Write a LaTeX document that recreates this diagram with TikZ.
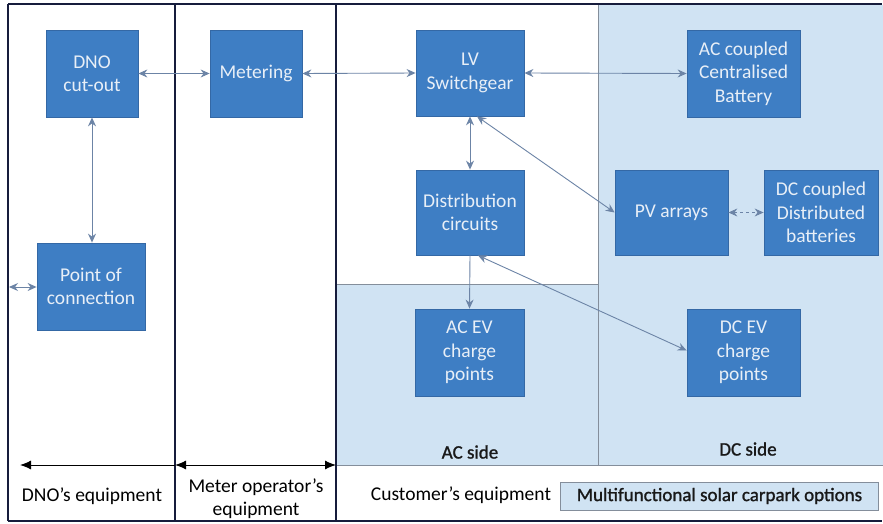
\documentclass[tikz,border=0pt]{standalone}
\usepackage{fontspec}
\setmainfont{Carlito}
\newfontfamily\semibfont[FakeBold=1.2]{Carlito}
\usetikzlibrary{arrows.meta}
\definecolor{boxblue}{RGB}{62,126,196}
\definecolor{boxedge}{RGB}{52,104,165}
\definecolor{lightbg}{RGB}{208,227,243}
\definecolor{regionedge}{RGB}{132,142,155}
\definecolor{framec}{RGB}{22,28,60}
\definecolor{conn}{RGB}{108,132,166}
\definecolor{boxtext}{RGB}{232,239,247}
\tikzset{
  eqbox/.style={draw=boxedge, line width=0.8pt, fill=boxblue, text=boxtext,
    minimum width=#1, align=center, inner sep=0pt, font=\fontsize{19.5}{23.5}\selectfont},
  eqbox/.default=108pt,
  link/.style={draw=conn, line width=0.9pt, {Stealth[length=9pt,width=8pt,inset=3pt]}-{Stealth[length=9pt,width=8pt,inset=3pt]}},
  linkend/.style={draw=conn, line width=0.9pt, -{Stealth[length=9pt,width=8pt,inset=3pt]}},
  frameline/.style={draw=framec, line width=1.1pt},
  span/.style={draw=black, line width=1pt},
  lbl/.style={font=\fontsize{19.5}{23}\selectfont, text=black, align=center, inner sep=0pt},
  boldlbl/.style={font=\fontsize{19}{23}\semibfont, text=black!90, align=center, inner sep=0pt}
}
\begin{document}
\begin{tikzpicture}[x=1pt,y=-1pt]
\useasboundingbox (0,0) rectangle (883,524);
\fill[white] (0,0) rectangle (883,524);
% light blue regions
\fill[lightbg] (337,284) rectangle (598,465);
\fill[lightbg] (598,5) rectangle (883,465);
\draw[regionedge, line width=0.9pt] (337,284) -- (598,284);
\draw[regionedge, line width=0.9pt] (598,5) -- (598,465);
\draw[regionedge, line width=0.9pt] (337,465) -- (883,465);
% frame
\draw[frameline] (8,4) -- (882,4);
\draw[frameline] (8,521) -- (882,521);
\draw[frameline] (8,4) -- (8,521);
\draw[frameline] (175,4) -- (175,521);
\draw[frameline] (336,4) -- (336,521);
% boxes
\node[eqbox=92pt, minimum height=87pt] (dno) at (92,73.5) {DNO\\cut-out};
\node[eqbox=92pt, minimum height=87pt] (meter) at (256,73.5) {Metering};
\node[eqbox=108pt, minimum height=86pt] (lv) at (470,73) {LV\\Switchgear};
\node[eqbox=113pt, minimum height=87pt] (acbat) at (743.5,73.5) {AC coupled\\Centralised\\Battery};
\node[eqbox=108pt, minimum height=85pt] (dist) at (470,212.5) {Distribution\\circuits};
\node[eqbox=113pt, minimum height=85pt] (pv) at (671.5,212.5) {PV arrays};
\node[eqbox=114pt, minimum height=85pt] (dcbat) at (821,212.5) {DC coupled\\Distributed\\batteries};
\node[eqbox=108pt, minimum height=87pt] (poc) at (91,286.5) {Point of\\connection};
\node[eqbox=109pt, minimum height=87pt] (acev) at (469.5,352.5) {AC EV\\charge\\points};
\node[eqbox=113pt, minimum height=87pt] (dcev) at (743.5,352.5) {DC EV\\charge\\points};
% connectors
\coordinate (pocl) at (9,287);
\draw[link] (dno.east) -- (meter.west);
\draw[link] (meter.east) -- (lv.west);
\draw[link] (lv.east) -- (acbat.west);
\draw[link] (dno.south) -- (poc.north -| dno.south);
\draw[link] (pocl) -- (poc.west |- pocl);
\draw[link] (lv.south) -- (dist.north);
\draw[link] ([xshift=7pt]lv.south) -- (pv.west);
\draw[link, dashed] (pv.east) -- (dcbat.west);
\draw[linkend] (dist.south) -- (acev.north);
\draw[link] ([xshift=8pt]dist.south) -- ([yshift=2pt]dcev.west);
% spans at bottom
\coordinate (s0) at (20,465);
\coordinate (s1) at (175,465);
\coordinate (s2) at (336,465);
\draw[span, -{Latex[length=11pt,width=9pt]}] (s1) -- (s0);
\draw[span, {Latex[length=11pt,width=9pt]}-{Latex[length=11pt,width=9pt]}] (s1) -- (s2);
% labels
\node[lbl] (dnoeq) at (92,496) {DNO’s equipment};
\node[lbl] (meq) at (256,498.5) {Meter operator’s\\equipment};
\node[lbl] (ceq) at (461,495) {Customer’s equipment};
\node[boldlbl] (acside) at (470,452) {AC side};
\node[boldlbl] (dcside) at (748,449) {DC side};
\node[boldlbl, draw=regionedge, line width=0.8pt, fill=lightbg, minimum width=318pt, minimum height=28pt] (legend) at (719.5,496) {Multifunctional solar carpark options};
\end{tikzpicture}
\end{document}
